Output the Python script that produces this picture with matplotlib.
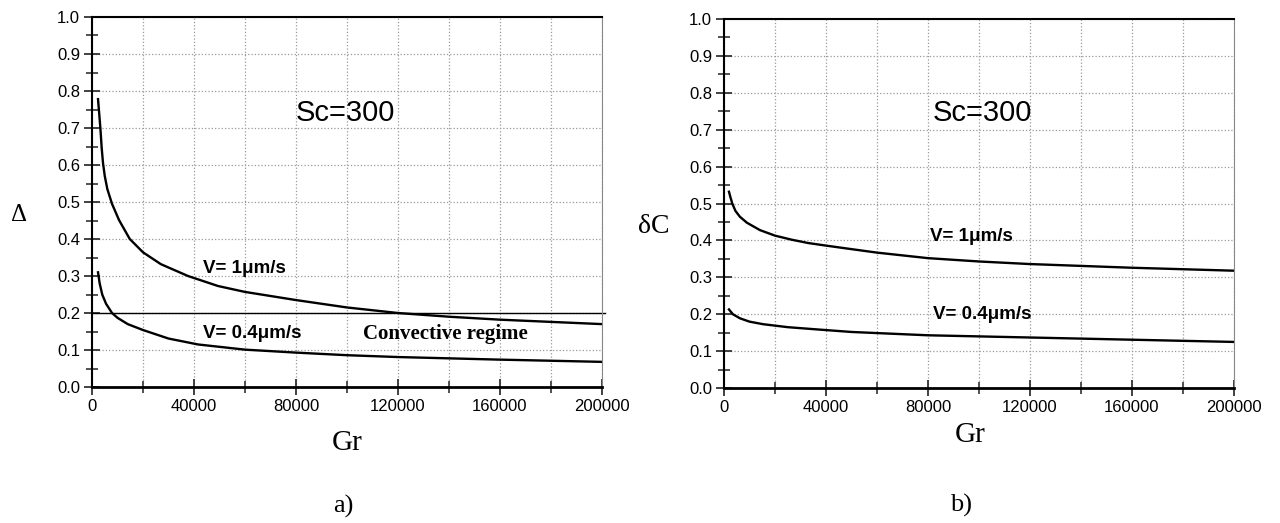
import matplotlib
matplotlib.use('Agg')
import matplotlib.pyplot as plt
from matplotlib.ticker import MultipleLocator, FormatStrFormatter

# a) thickness Delta vs Gr
gr_a1 = [2350, 2800, 3270, 3800, 4310, 5000, 6000, 7840, 10600, 14800, 20000, 27000, 37650, 49400,
         60000, 80000, 100000, 120000, 140000, 160000, 180000, 200000]
delta_v1 = [0.778, 0.740, 0.700, 0.645, 0.605, 0.570, 0.535, 0.495, 0.451, 0.400, 0.364, 0.332, 0.300, 0.273,
            0.257, 0.235, 0.215, 0.200, 0.190, 0.182, 0.176, 0.170]
gr_a2 = [2350, 3000, 4000, 5500, 7840, 10000, 14000, 20000, 30000, 41600,
         60000, 80000, 100000, 120000, 160000, 200000]
delta_v04 = [0.310, 0.280, 0.250, 0.225, 0.200, 0.187, 0.170, 0.154, 0.131, 0.115,
             0.101, 0.093, 0.086, 0.081, 0.074, 0.068]

# b) dC vs Gr
gr_b1 = [1960, 2500, 3260, 4500, 6270, 9000, 14100, 20000, 26550, 33000, 40000, 49400,
         60000, 80000, 100000, 120000, 160000, 200000]
dc_v1 = [0.532, 0.518, 0.500, 0.480, 0.464, 0.448, 0.428, 0.413, 0.402, 0.393, 0.386, 0.377,
         0.367, 0.352, 0.343, 0.336, 0.326, 0.318]
gr_b2 = [1960, 3500, 6270, 10000, 15400, 25000, 36300, 50000, 80000, 120000, 160000, 200000]
dc_v04 = [0.213, 0.200, 0.189, 0.180, 0.173, 0.165, 0.159, 0.152, 0.143, 0.137, 0.131, 0.125]

SANS = 'Liberation Sans'
SERIF = 'Liberation Serif'

fig = plt.figure(figsize=(12.8, 5.23), dpi=100)
ax1 = fig.add_axes([0.0719, 0.26, 0.3984, 0.7075])
ax2 = fig.add_axes([0.5656, 0.258, 0.3984, 0.7057])


def style(ax):
    ax.set_xlim(0, 200000)
    ax.set_ylim(0, 1.0)
    ax.xaxis.set_major_locator(MultipleLocator(40000))
    ax.xaxis.set_minor_locator(MultipleLocator(20000))
    ax.yaxis.set_major_locator(MultipleLocator(0.1))
    ax.yaxis.set_minor_locator(MultipleLocator(0.05))
    ax.yaxis.set_major_formatter(FormatStrFormatter('%.1f'))
    ax.grid(True, which='major', axis='y', linestyle=':', color='#999999', linewidth=0.9)
    ax.grid(True, which='both', axis='x', linestyle=':', color='#999999', linewidth=0.9)
    ax.tick_params(which='major', direction='inout', length=11, width=1.3, color='#333333')
    ax.tick_params(which='minor', direction='inout', length=8, width=1.3, color='#444444')
    ax.tick_params(labelsize=12, pad=3)
    for lab in ax.get_xticklabels() + ax.get_yticklabels():
        lab.set_fontfamily(SANS)
    for s in ['left', 'top']:
        ax.spines[s].set_linewidth(1.5)
        ax.spines[s].set_color('black')
    ax.spines['bottom'].set_linewidth(2)
    ax.spines['bottom'].set_color('black')
    ax.spines['right'].set_linewidth(0.8)
    ax.spines['right'].set_color('#888888')


style(ax1)
ax1.plot(gr_a1, delta_v1, color='black', lw=1.7)
ax1.plot(gr_a2, delta_v04, color='black', lw=1.7)
ax1.axhline(0.2, xmin=0, xmax=1.006, color='black', lw=1.0, clip_on=False)
ax1.text(99500, 0.74, 'Sc=300', fontsize=21, family=SANS, ha='center', va='center')
ax1.text(43500, 0.32, 'V= 1\u03bcm/s', fontsize=13.5, family=SANS, weight='bold', va='center')
ax1.text(43500, 0.144, 'V= 0.4\u03bcm/s', fontsize=13.5, family=SANS, weight='bold', va='center')
ax1.text(106300, 0.142, 'Convective regime', fontsize=15, family=SERIF, weight='bold', va='center')
fig.text(0.0148, 0.589, '\u0394', fontsize=18, family=SERIF, ha='center', va='center')
fig.text(0.271, 0.153, 'Gr', fontsize=21, family=SERIF, ha='center', va='center')
fig.text(0.268, 0.031, 'a)', fontsize=19, family=SERIF, ha='center', va='center')

style(ax2)
ax2.plot(gr_b1, dc_v1, color='black', lw=1.7)
ax2.plot(gr_b2, dc_v04, color='black', lw=1.7)
ax2.text(101500, 0.744, 'Sc=300', fontsize=21, family=SANS, ha='center', va='center')
ax2.text(81000, 0.411, 'V= 1\u03bcm/s', fontsize=13.5, family=SANS, weight='bold', va='center')
ax2.text(82000, 0.199, 'V= 0.4\u03bcm/s', fontsize=13.5, family=SANS, weight='bold', va='center')
fig.text(0.511, 0.566, '\u03b4C', fontsize=20, family=SERIF, ha='center', va='center')
fig.text(0.758, 0.168, 'Gr', fontsize=21, family=SERIF, ha='center', va='center')
fig.text(0.751, 0.034, 'b)', fontsize=19, family=SERIF, ha='center', va='center')

fig.savefig('out.png', dpi=100)
